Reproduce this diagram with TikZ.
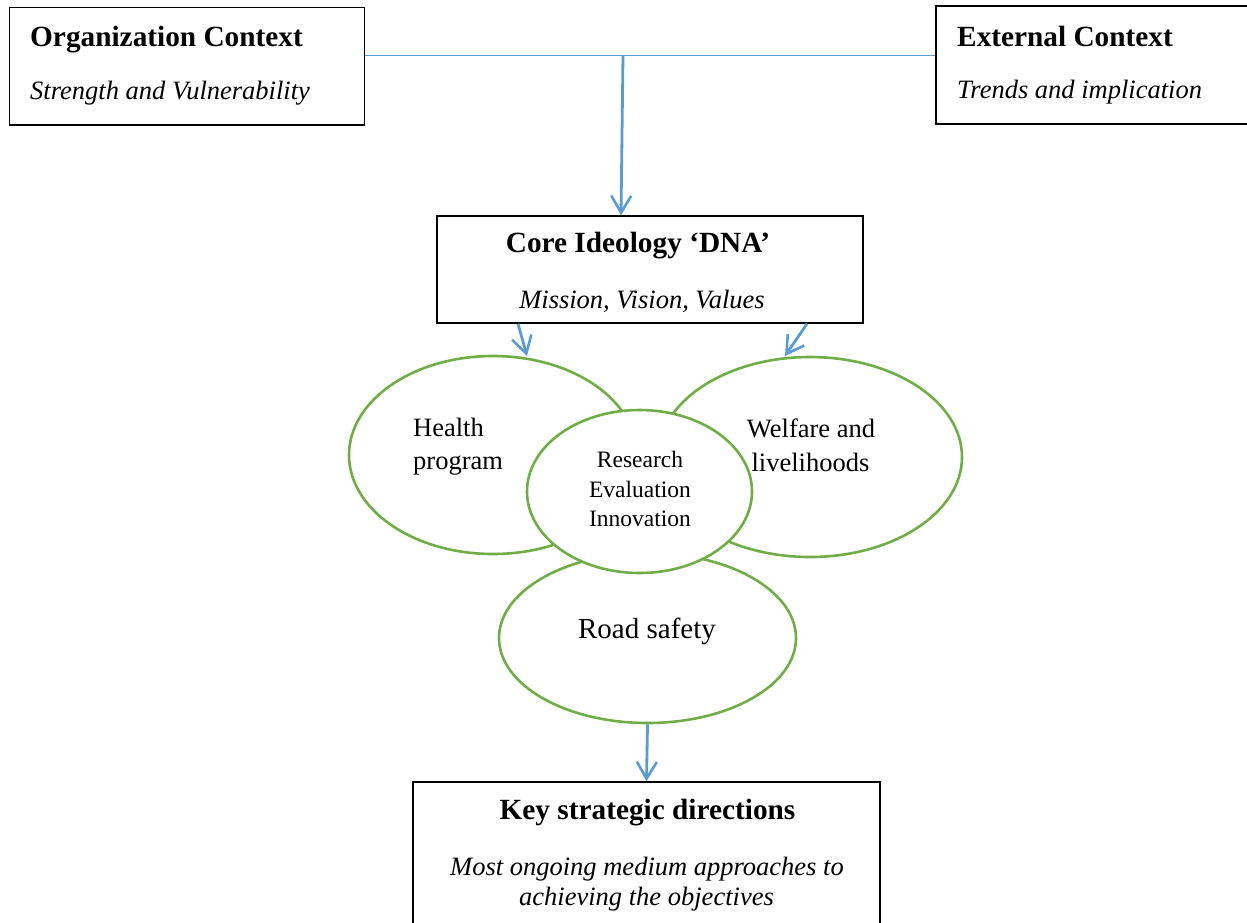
\documentclass[tikz,border=0pt]{standalone}
\usepackage{fontspec}
\setmainfont{Liberation Serif}
\usetikzlibrary{arrows.meta,shapes.geometric}
\definecolor{arrowblue}{RGB}{91,155,213}
\definecolor{ellgreen}{RGB}{112,173,71}
\begin{document}
\begin{tikzpicture}[x=1pt,y=-1pt,
  box/.style={draw=black, line width=1.4pt, fill=white, inner sep=0pt, rectangle},
  ell/.style={draw=ellgreen, line width=2.6pt, fill=white, inner sep=0pt, ellipse},
  head/.style={font=\fontsize{29.3}{35}\selectfont\bfseries, inner sep=0pt},
  sub/.style={font=\fontsize{26.5}{32}\selectfont\itshape, inner sep=0pt},
  eltext/.style={font=\fontsize{26.5}{32}\selectfont, inner sep=0pt},
  restext/.style={font=\fontsize{23.5}{28}\selectfont, inner sep=0pt},
  roadtext/.style={font=\fontsize{29}{35}\selectfont, inner sep=0pt},
  conn/.style={draw=arrowblue, line width=2.8pt, -{Straight Barb[length=17pt,width=20pt,line width=2.6pt]}},
  hline/.style={draw=arrowblue, line width=1.9pt}
]
\useasboundingbox (0,0) rectangle (1247,922);
% boxes
\node[box, minimum width=354.5pt, minimum height=117.5pt] (org) at (187,66.25) {};
\node[box, minimum width=324pt, minimum height=118pt] (ext) at (1098,65) {};
\node[box, minimum width=426pt, minimum height=107pt] (core) at (650,269.5) {};
\node[box, minimum width=467pt, minimum height=158pt] (key) at (646.5,861) {};
% box texts
\node[head, anchor=base west] (orgt) at (30,46) {Organization Context};
\node[sub, anchor=base west] (orgs) at (30,99) {Strength and Vulnerability};
\node[head, anchor=base west] (extt) at (957,46) {External Context};
\node[sub, anchor=base west] (exts) at (957,98) {Trends and implication};
\node[head, anchor=base] (coret) at (638,252) {Core Ideology ‘DNA’};
\node[sub, anchor=base] (cores) at (642,308) {Mission, Vision, Values};
\node[head, anchor=base] (keyt) at (647.5,819) {Key strategic directions};
\node[sub, anchor=base] (keys1) at (647,875) {Most ongoing medium approaches to};
\node[sub, anchor=base] (keys2) at (646.5,905) {achieving the objectives};
% ellipses
\node[ell, minimum width=297pt, minimum height=170pt] (road) at (647.5,638) {};
\node[ell, minimum width=288pt, minimum height=198pt] (health) at (493,455) {};
\node[ell, minimum width=304pt, minimum height=200pt] (welfare) at (810,457) {};
\node[ell, minimum width=225pt, minimum height=163pt] (research) at (639.5,491.5) {};
% ellipse texts
\node[eltext, anchor=base west] (h1) at (413,436) {Health};
\node[eltext, anchor=base west] (h2) at (413,469) {program};
\node[eltext, anchor=base] (w1) at (811,437) {Welfare and};
\node[eltext, anchor=base] (w2) at (810.5,471) {livelihoods};
\node[restext, anchor=base] (r1) at (640,467) {Research};
\node[restext, anchor=base] (r2) at (640,497) {Evaluation};
\node[restext, anchor=base] (r3) at (640,526) {Innovation};
\node[roadtext, anchor=base] (rs) at (647,638) {Road safety};
% connectors
\coordinate (hl) at (org.east |- 0,55.5);
\coordinate (hr) at (ext.west |- 0,55.5);
\coordinate (j) at (623,55.5);
\coordinate (ha) at (527,356);
\coordinate (wa) at (785,356);
\draw[hline] (hl) -- (hr);
\draw[conn] (j) -- (core.north -| 621,0);
\draw[conn] (core.south -| 518,0) -- (ha);
\draw[conn] (core.south -| 807,0) -- (wa);
\draw[conn] (road.south) -- (key.north);
\end{tikzpicture}
\end{document}
